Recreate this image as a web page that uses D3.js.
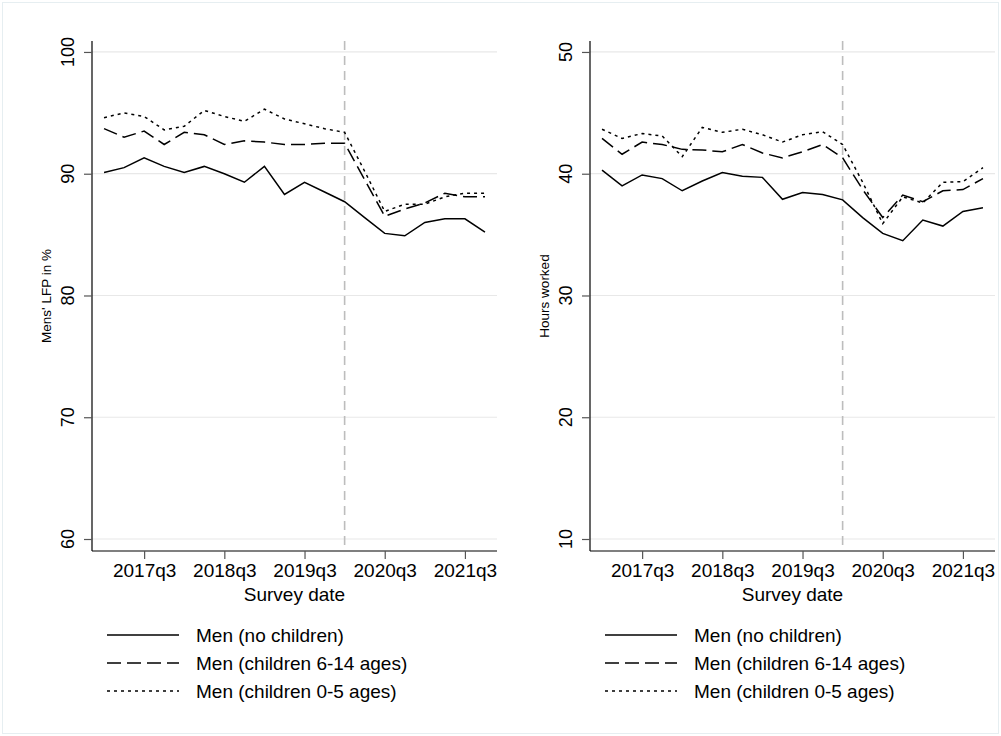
<!DOCTYPE html>
<html>
<head>
<meta charset="utf-8">
<script src="https://cdn.jsdelivr.net/npm/d3@7"></script>
<style>
  html, body { margin: 0; padding: 0; background: #fff; }
  svg { display: block; font-family: "Liberation Sans", Arial, sans-serif; }
</style>
</head>
<body>
<svg id="chart" width="1001" height="736"></svg>
<script>
const quarters = ["2017q1","2017q2","2017q3","2017q4","2018q1","2018q2","2018q3","2018q4",
                  "2019q1","2019q2","2019q3","2019q4","2020q1","2020q2","2020q3","2020q4",
                  "2021q1","2021q2","2021q3","2021q4"];
const tickQuarters = ["2017q3","2018q3","2019q3","2020q3","2021q3"];
const markerQuarter = "2020q1";

const seriesNames = ["Men (no children)", "Men (children 6-14 ages)", "Men (children 0-5 ages)"];

const lfpNoChildren = [90.1,90.5,91.3,90.6,90.1,90.6,90.0,89.3,90.6,88.3,89.3,88.5,87.7,86.4,85.1,84.9,86.0,86.3,86.3,85.2];
const lfpChildren614 = [93.7,93.0,93.5,92.4,93.4,93.2,92.4,92.7,92.6,92.4,92.4,92.5,92.5,89.5,86.5,87.1,87.6,88.4,88.1,88.1];
const lfpChildren05 = [94.6,95.0,94.7,93.6,93.9,95.2,94.7,94.3,95.3,94.5,94.1,93.7,93.4,90.2,86.9,87.5,87.5,88.1,88.4,88.4];

const hoursNoChildren = [40.3,39.0,39.9,39.6,38.6,39.4,40.1,39.8,39.7,37.9,38.45,38.3,37.85,36.4,35.1,34.5,36.2,35.7,36.9,37.2];
const hoursChildren614 = [42.9,41.6,42.6,42.4,42.0,41.95,41.8,42.4,41.7,41.3,41.8,42.4,41.3,38.7,36.4,38.25,37.7,38.6,38.7,39.6];
const hoursChildren05 = [43.65,42.9,43.3,43.1,41.4,43.8,43.4,43.65,43.2,42.6,43.2,43.45,42.4,39.3,35.9,38.1,37.6,39.3,39.35,40.5];

const lfpTicks = [60,70,80,90,100];
const hoursTicks = [10,20,30,40,50];

const dashes = [null, "14,6", "3,4"];

const svg = d3.select("#chart");
svg.append("rect").attr("x",0).attr("y",0).attr("width",1001).attr("height",736).attr("fill","#fff");
svg.append("rect").attr("x",2.5).attr("y",2.5).attr("width",996).attr("height",731)
  .attr("fill","none").attr("stroke","#e6eef1").attr("stroke-width",1);

function panel(opts) {
  const {x0, x1, yTop, yBot, yDomain, ticks, title, series, titleX, labelX, legendX} = opts;
  const g = svg.append("g");
  const x = d3.scaleLinear().domain([-0.6, quarters.length - 1 + 0.6]).range([x0, x1]);
  const y = d3.scaleLinear().domain(yDomain).range([yBot, yTop]);
  const xq = q => x(quarters.indexOf(q));

  // gridlines
  g.selectAll(".grid").data(ticks).enter().append("line")
    .attr("x1", x0).attr("x2", x1)
    .attr("y1", d => y(d)).attr("y2", d => y(d))
    .attr("stroke", "#e8e8e8").attr("stroke-width", 1.2);

  // vertical marker
  g.append("line").attr("x1", xq(markerQuarter)).attr("x2", xq(markerQuarter))
    .attr("y1", yTop).attr("y2", yBot)
    .attr("stroke", "#bdbdbd").attr("stroke-width", 1.6).attr("stroke-dasharray", "9,6");

  // y axis
  const yAxis = d3.axisLeft(y).tickValues(ticks).tickSize(8).tickFormat("");
  const ya = g.append("g").attr("transform", `translate(${x0},0)`).call(yAxis);
  ya.select(".domain").attr("stroke", "#000").attr("stroke-width", 1.2).attr("d", `M0,${yTop}V${yBot}`);
  ya.selectAll(".tick line").attr("stroke", "#555").attr("stroke-width", 1.2);
  g.selectAll(".ylab").data(ticks).enter().append("text")
    .attr("transform", d => `translate(${labelX},${y(d)}) rotate(-90)`)
    .attr("text-anchor", "middle").attr("font-size", 18).attr("fill", "#000")
    .text(d => d);
  g.append("text")
    .attr("transform", `translate(${titleX},${(yTop + yBot) / 2}) rotate(-90)`)
    .attr("text-anchor", "middle").attr("font-size", 13.5).attr("fill", "#000")
    .text(title);

  // x axis
  const xAxis = d3.axisBottom(x).tickValues(tickQuarters.map(q => quarters.indexOf(q)))
    .tickSize(8).tickFormat(i => quarters[i]);
  const xa = g.append("g").attr("transform", `translate(0,${yBot})`).call(xAxis);
  xa.select(".domain").attr("stroke", "#000").attr("stroke-width", 1.2).attr("d", `M${x0},0H${x1}`);
  xa.selectAll(".tick line").attr("stroke", "#555").attr("stroke-width", 1.2);
  xa.selectAll(".tick text").attr("font-size", 19).attr("fill", "#000")
    .attr("font-family", "Liberation Sans, Arial, sans-serif").attr("y", 13).attr("dy", "0.71em");
  g.append("text").attr("x", (x0 + x1) / 2).attr("y", yBot + 50)
    .attr("text-anchor", "middle").attr("font-size", 19).attr("fill", "#000")
    .text("Survey date");

  // lines
  const line = d3.line().x((d, i) => x(i)).y(d => y(d));
  series.forEach((s, k) => {
    const p = g.append("path").datum(s).attr("d", line)
      .attr("fill", "none").attr("stroke", "#000").attr("stroke-width", 1.5)
      .attr("stroke-linejoin", "miter");
    if (dashes[k]) p.attr("stroke-dasharray", dashes[k]);
  });

  // legend
  const rows = [635, 663, 691];
  seriesNames.forEach((name, k) => {
    const l = g.append("line").attr("x1", legendX).attr("x2", legendX + 72)
      .attr("y1", rows[k]).attr("y2", rows[k])
      .attr("stroke", "#000").attr("stroke-width", 1.5);
    if (dashes[k]) l.attr("stroke-dasharray", dashes[k]);
    g.append("text").attr("x", legendX + 89).attr("y", rows[k]).attr("dy", "0.35em")
      .attr("font-size", 19).attr("fill", "#000").text(name);
  });
}

panel({x0: 92, x1: 497, yTop: 41, yBot: 551, yDomain: [59.015, 100.9], ticks: lfpTicks,
  title: "Mens' LFP in %", series: [lfpNoChildren, lfpChildren614, lfpChildren05],
  titleX: 51, labelX: 74, legendX: 107});
panel({x0: 590, x1: 995, yTop: 41, yBot: 551, yDomain: [9.015, 50.9], ticks: hoursTicks,
  title: "Hours worked", series: [hoursNoChildren, hoursChildren614, hoursChildren05],
  titleX: 549, labelX: 572, legendX: 605});
</script>
</body>
</html>
